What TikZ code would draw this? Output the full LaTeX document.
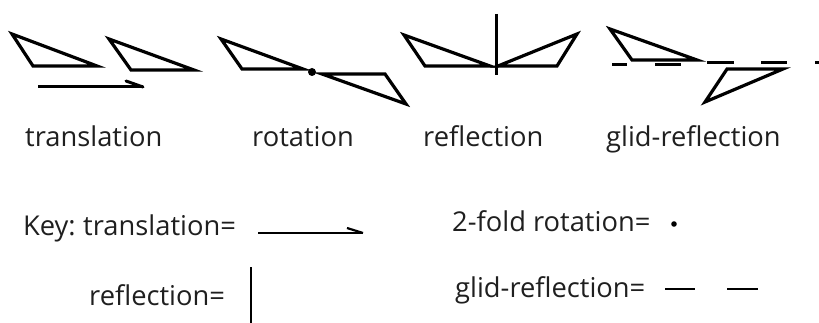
\documentclass[tikz,border=0pt]{standalone}
\usepackage{fontspec}
\setmainfont{Open Sans}
\begin{document}
\begin{tikzpicture}[x=1pt,y=-1pt,
  tri/.style={line width=3.2pt,line join=miter},
  ln/.style={line width=3pt},
  thin/.style={line width=2.2pt},
  lbl/.style={anchor=base west,inner sep=0pt,font=\fontsize{27.3}{30}\selectfont,text=black!88}]
\useasboundingbox (0,0) rectangle (819,323);
% translation
\draw[tri] (12,34) -- (33,66) -- (97,66) -- cycle;
\draw[tri] (109,39) -- (131,70) -- (194,70) -- cycle;
\coordinate (ta) at (38,87); \coordinate (tb) at (143,87); \coordinate (tc) at (126,81);
\draw[ln] (ta) -- (tb);
\draw[ln,line cap=round] (tc) -- (tb);
% rotation
\draw[tri] (221,39) -- (242,69) -- (303,69) -- cycle;
\fill (312,72) circle (4pt);
\draw[tri] (322,74) -- (385,74) -- (406,104) -- cycle;
% reflection
\draw[tri] (404,35) -- (425,66) -- (490,66) -- cycle;
\coordinate (ma) at (496,14); \coordinate (mb) at (496,75);
\draw[ln] (ma) -- (mb);
\draw[tri] (498,66) -- (557,66) -- (577,34) -- cycle;
% glide reflection
\draw[tri] (610,29) -- (632,60) -- (697,60) -- cycle;
\draw[ln] (612,65) -- (627,65);
\draw[ln] (655,65) -- (681,65);
\draw[ln] (707,63) -- (734,63);
\draw[ln] (761,63) -- (787,63);
\draw[ln] (815,63) -- (822,63);
\draw[tri] (727,69) -- (783,69) -- (705,102) -- cycle;
% labels
\node[lbl] (l1) at (25,147) {translation};
\node[lbl] (l2) at (252,147) {rotation};
\node[lbl] (l3) at (423,147) {reflection};
\node[lbl] (l4) at (606,147) {glid-reflection};
% key
\node[lbl] (k1) at (23,235) {Key:\hspace{-2pt} translation=};
\coordinate (ka) at (258,233); \coordinate (kb) at (363,233); \coordinate (kc) at (347,228);
\draw[thin] (ka) -- (kb);
\draw[thin] (kc) -- (kb);
\node[lbl] (k2) at (89,305) {reflection=};
\coordinate (ra) at (251,267); \coordinate (rb) at (251,323);
\draw[thin] (ra) -- (rb);
\node[lbl] (k3) at (452,232) {2-fold rotation=};
\fill (674,224) circle (2.8pt);
\node[lbl] (k4) at (455,297) {glid-reflection=};
\draw[thin] (665,289) -- (695,289);
\draw[thin] (727,289) -- (758,289);
\end{tikzpicture}
\end{document}
